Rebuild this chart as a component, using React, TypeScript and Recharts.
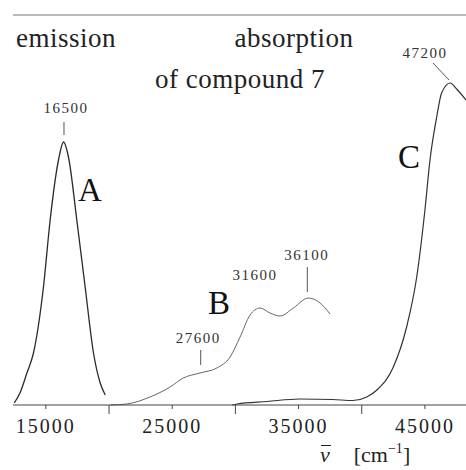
import React from 'react';
import { LineChart, Line, XAxis, YAxis, ReferenceLine, ReferenceDot } from 'recharts';

// wavenumber (cm^-1) vs. relative intensity
const bandA = [
  { x: 12500, y: 2 }, { x: 12950, y: 12 }, { x: 13500, y: 32 }, { x: 14020, y: 52 },
  { x: 14810, y: 118 }, { x: 15340, y: 185 }, { x: 16000, y: 245 }, { x: 16400, y: 263 },
  { x: 16790, y: 248 }, { x: 17450, y: 185 }, { x: 18110, y: 118 }, { x: 18770, y: 52 },
  { x: 19300, y: 22 }, { x: 19700, y: 10 },
];

const bandB = [
  { x: 20100, y: 0 }, { x: 21400, y: 1 }, { x: 23240, y: 8 }, { x: 24830, y: 18 },
  { x: 25880, y: 27 }, { x: 27200, y: 32 }, { x: 28530, y: 37 }, { x: 29580, y: 48 },
  { x: 30370, y: 68 }, { x: 31160, y: 90 }, { x: 31950, y: 97 }, { x: 32740, y: 92 },
  { x: 33530, y: 89 }, { x: 34590, y: 97 }, { x: 35770, y: 107 }, { x: 36700, y: 102 },
  { x: 37490, y: 91 },
];

const bandC = [
  { x: 29750, y: 0 }, { x: 30130, y: 1 }, { x: 32500, y: 3.5 }, { x: 35100, y: 6 },
  { x: 37700, y: 5.5 }, { x: 39300, y: 4.5 }, { x: 40400, y: 8 }, { x: 41200, y: 15 },
  { x: 42500, y: 38 }, { x: 43550, y: 78 }, { x: 44350, y: 128 }, { x: 45000, y: 195 },
  { x: 45400, y: 245 }, { x: 45930, y: 288 }, { x: 46320, y: 312 }, { x: 47000, y: 322 },
  { x: 47510, y: 316 }, { x: 48250, y: 305 },
];

const xTicks = [15000, 20000, 25000, 30000, 35000, 40000, 45000];
const labeledTicks = [15000, 25000, 35000, 45000];

const titles = [
  { text: 'emission', x: 16594, y: 368 },
  { text: 'absorption', x: 34638, y: 368 },
  { text: 'of compound 7', x: 30365, y: 327 },
];

const peakLabels = [
  { text: '16500', x: 16594, y: 297 },
  { text: '47200', x: 45006, y: 352 },
  { text: '31600', x: 31552, y: 130 },
  { text: '36100', x: 35643, y: 150 },
  { text: '27600', x: 27065, y: 67 },
];

const peakMarks = [
  { x1: 16436, y1: 270, x2: 16436, y2: 283 },
  { x1: 35691, y1: 113, x2: 35691, y2: 138 },
  { x1: 27255, y1: 40, x2: 27255, y2: 55 },
  { x1: 45639, y1: 342, x2: 46905, y2: 325 },
];

const bandLetters = [
  { text: 'A', x: 18494, y: 216 },
  { text: 'B', x: 28703, y: 103 },
  { text: 'C', x: 43739, y: 249 },
];

const serif = '"Liberation Serif", "DejaVu Serif", serif';

const AxisTick = (props: any) => {
  const { x, y, payload } = props;
  const top = y - 8;
  const labeled = labeledTicks.includes(payload.value);
  return (
    <g>
      <line x1={x} y1={top} x2={x} y2={top + (labeled ? 4 : 9)} stroke="#444" strokeWidth={1} />
      {labeled && (
        <text x={x} y={y} dy={20} textAnchor="middle" fontFamily={serif} fontSize={20} letterSpacing={2} fill="#222">
          {payload.value}
        </text>
      )}
    </g>
  );
};

const App: React.FC = () => {
  return (
    <div style={{ position: 'absolute', left: 0, top: 0, width: 466, height: 470, background: '#fff' }}>
      <LineChart width={466} height={470} margin={{ top: 15, right: 0, left: 13, bottom: 25 }}>
        <XAxis
          type="number"
          dataKey="x"
          domain={[12400, 48250]}
          allowDataOverflow
          ticks={xTicks}
          height={40}
          tickLine={false}
          tickSize={6}
          tickMargin={2}
          tick={<AxisTick />}
          stroke="#444"
        />
        <YAxis type="number" dataKey="y" domain={[0, 390]} width={0} tick={false} tickLine={false} stroke="#888" />
        <ReferenceLine y={390} stroke="#777" />

        <Line data={bandA} dataKey="y" type="monotone" stroke="#2a2a2a" strokeWidth={1.3} dot={false} isAnimationActive={false} />
        <Line data={bandB} dataKey="y" type="monotone" stroke="#666" strokeWidth={1} dot={false} isAnimationActive={false} />
        <Line data={bandC} dataKey="y" type="monotone" stroke="#333" strokeWidth={1.2} dot={false} isAnimationActive={false} />

        {peakMarks.map((m, i) => (
          <ReferenceLine key={'m' + i} segment={[{ x: m.x1, y: m.y1 }, { x: m.x2, y: m.y2 }]} stroke="#555" strokeWidth={1} />
        ))}
        {titles.map((t) => (
          <ReferenceDot key={t.text} x={t.x} y={t.y} r={0} fill="none" stroke="none"
            label={{ value: t.text, position: 'center', fontFamily: serif, fontSize: 27, fill: '#222', letterSpacing: 0.5 }} />
        ))}
        {peakLabels.map((t) => (
          <ReferenceDot key={t.text} x={t.x} y={t.y} r={0} fill="none" stroke="none"
            label={{ value: t.text, position: 'center', fontFamily: serif, fontSize: 15, fill: '#333', letterSpacing: 1.5 }} />
        ))}
        {bandLetters.map((t) => (
          <ReferenceDot key={t.text} x={t.x} y={t.y} r={0} fill="none" stroke="none"
            label={{ value: t.text, position: 'center', fontFamily: serif, fontSize: 33, fill: '#111' }} />
        ))}
      </LineChart>
      <div style={{ position: 'absolute', left: 320, top: 444, fontFamily: serif, fontSize: 22, lineHeight: '22px', color: '#222', whiteSpace: 'nowrap' }}>
        <span style={{ position: 'relative', fontStyle: 'italic' }}>
          ν
          <span style={{ position: 'absolute', left: 1, right: -1, top: 3, borderTop: '1.5px solid #222' }} />
        </span>
        <span style={{ marginLeft: 24 }}>[cm<span style={{ fontSize: 14, position: 'relative', top: -9 }}>−1</span>]</span>
      </div>
    </div>
  );
};

export default App;
